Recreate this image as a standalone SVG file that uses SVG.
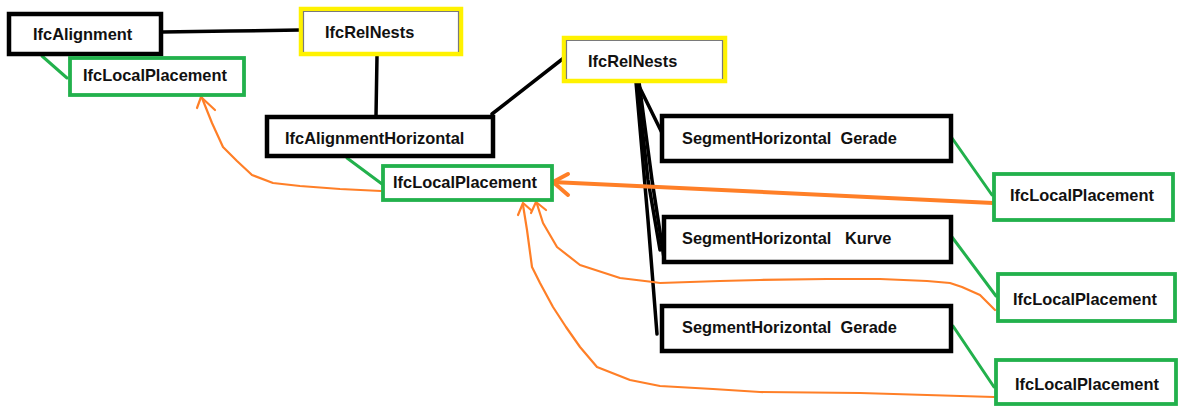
<svg xmlns="http://www.w3.org/2000/svg" width="1178" height="410" viewBox="0 0 1178 410">
<style>
text{font-family:"Liberation Sans",Arial,sans-serif;font-weight:bold;font-size:16.4px;fill:#111;}
.bk{fill:#fff;stroke:#000;stroke-width:4.5;}
.ye{fill:#fff;stroke:#FFF200;stroke-width:4.5;}
.gr{fill:#fff;stroke:#22B14C;stroke-width:3.8;}
.gi{fill:none;stroke:#7a7a7a;stroke-width:1.2;}
.cb{fill:none;stroke:#000;stroke-width:3.5;stroke-linecap:round;stroke-linejoin:round;}
.cg{fill:none;stroke:#22B14C;stroke-width:3;stroke-linecap:round;}
.co{fill:none;stroke:#FF7F27;stroke-width:2.2;stroke-linecap:round;stroke-linejoin:round;}
.cot{fill:none;stroke:#FF7F27;stroke-width:4;stroke-linecap:round;stroke-linejoin:round;}
</style>
<g id="connectors">
<polyline class="cb" points="162,32 230,31 300,30"/>
<polyline class="cb" points="377,56 376,116"/>
<polyline class="cb" points="492,114 565,57"/>
<polyline class="cb" points="637,82 663,135"/>
<polyline class="cb" points="637,82 648,180 660,250"/>
<polyline class="cb" points="639,82 652,180 664,258"/>
<polyline class="cb" points="636,82 648,220 657,334"/>
<polyline class="cg" points="42,56 67,78"/>
<polyline class="cg" points="347,158 382,184"/>
<polyline class="cg" points="952,138 992,195"/>
<polyline class="cg" points="952,237 996,296"/>
<polyline class="cg" points="953,326 994,387"/>
<polyline class="cot" points="993,203 552,182"/>
<polyline class="cot" points="568,174 553,182 568,195"/>
<polyline class="co" points="381,191 340,189 300,186 273,183 252,175 237,161 223,147 212,123 206,108 202,98"/>
<polyline class="co" points="197,108 201,97 215,110"/>
<polyline class="co" points="995,310 980,295 962,287 950,283 927,281 880,279 827,279 760,280 720,281 660,283 653,282 620,278 580,265 557,247 543,223 537,204"/>
<polyline class="co" points="531,213 536,202 546,210"/>
<polyline class="co" points="994,397 927,395 860,393 760,392 713,389 660,386 630,380 597,367 580,347 566,327 553,307 540,283 532,267 527,230 523,205"/>
<polyline class="co" points="518,215 523,203 531,210"/>
</g>
<g id="ifcAlignment">
<rect class="bk" x="9" y="14" width="152" height="40"/>
<text x="33" y="40">IfcAlignment</text>
</g>
<g id="ifcRelNests1">
<rect class="ye" x="301" y="9" width="160" height="45"/>
<path class="gi" d="M303.5,52 V11.5 H458.5 V52"/>
<text x="325" y="38">IfcRelNests</text>
</g>
<g id="ifcLocalPlacement1">
<rect class="gr" x="70" y="58" width="174" height="37"/>
<text x="83" y="81">IfcLocalPlacement</text>
</g>
<g id="ifcAlignmentHorizontal">
<rect class="bk" x="267" y="117" width="226" height="39"/>
<text x="285" y="144">IfcAlignmentHorizontal</text>
</g>
<g id="ifcRelNests2">
<rect class="ye" x="564" y="38" width="161" height="43"/>
<path class="gi" d="M566.5,79 V40.5 H722.5 V79"/>
<text x="588" y="67">IfcRelNests</text>
</g>
<g id="ifcLocalPlacement2">
<rect class="gr" x="383" y="166" width="169" height="34"/>
<text x="393" y="188">IfcLocalPlacement</text>
</g>
<g id="segment1">
<rect class="bk" x="662" y="116" width="289" height="45"/>
<text x="682" y="144" xml:space="preserve">SegmentHorizontal  Gerade</text>
</g>
<g id="localPlacementR1">
<rect class="gr" x="994" y="174" width="179" height="46"/>
<text x="1010" y="201">IfcLocalPlacement</text>
</g>
<g id="segment2">
<rect class="bk" x="664" y="217" width="287" height="45"/>
<text x="682" y="244" xml:space="preserve">SegmentHorizontal   Kurve</text>
</g>
<g id="localPlacementR2">
<rect class="gr" x="998" y="274" width="177" height="47"/>
<text x="1013" y="305">IfcLocalPlacement</text>
</g>
<g id="segment3">
<rect class="bk" x="662" y="306" width="289" height="45"/>
<text x="682" y="333" xml:space="preserve">SegmentHorizontal  Gerade</text>
</g>
<g id="localPlacementR3">
<rect class="gr" x="996" y="360" width="180" height="44"/>
<text x="1015" y="390">IfcLocalPlacement</text>
</g>
</svg>
